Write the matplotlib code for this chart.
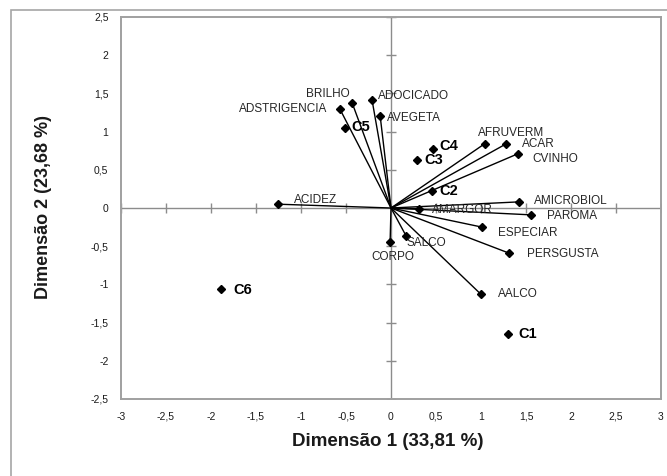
import numpy as np
import matplotlib
matplotlib.use("Agg")
import matplotlib.pyplot as plt
from matplotlib.patches import Rectangle

plt.rcParams["font.family"] = ["Liberation Sans", "DejaVu Sans"]

# variables (loadings) on dimensions 1 and 2
variaveis = ["ADSTRIGENCIA", "BRILHO", "ADOCICADO", "AVEGETA", "ACIDEZ",
             "AFRUVERM", "ACAR", "CVINHO", "AMICROBIOL", "PAROMA", "AMARGOR",
             "ESPECIAR", "PERSGUSTA", "AALCO", "SALCO", "CORPO"]
dim1_var = [-0.57, -0.43, -0.21, -0.12, -1.26, 1.04, 1.28, 1.41, 1.42, 1.56,
            0.31, 1.01, 1.31, 1.00, 0.17, -0.01]
dim2_var = [1.30, 1.37, 1.41, 1.20, 0.05, 0.84, 0.84, 0.71, 0.08, -0.09,
            -0.01, -0.25, -0.59, -1.13, -0.37, -0.45]

# classes (scores)
classes = ["C1", "C2", "C3", "C4", "C5", "C6"]
dim1_cls = [1.30, 0.46, 0.29, 0.47, -0.51, -1.89]
dim2_cls = [-1.65, 0.22, 0.63, 0.77, 1.05, -1.06]

ticks_x = [-3, -2.5, -2, -1.5, -1, -0.5, 0, 0.5, 1, 1.5, 2, 2.5, 3]
ticks_y = [-2.5, -2, -1.5, -1, -0.5, 0, 0.5, 1, 1.5, 2, 2.5]

# label placement (pixels offset, horizontal alignment)
off_var = {"ADSTRIGENCIA": (-12, 0, "right"), "BRILHO": (-3, 9, "right"),
           "ADOCICADO": (6, 4, "left"), "AVEGETA": (7, -2, "left"),
           "ACIDEZ": (16, 4, "left"), "AFRUVERM": (-7, 11, "left"),
           "ACAR": (16, 0, "left"), "CVINHO": (14, -5, "left"),
           "AMICROBIOL": (15, 1, "left"), "PAROMA": (16, -1, "left"),
           "AMARGOR": (13, -1, "left"), "ESPECIAR": (16, -6, "left"),
           "PERSGUSTA": (18, -1, "left"), "AALCO": (17, 0, "left"),
           "SALCO": (0, -7, "left"), "CORPO": (-19, -15, "left")}
off_cls = {"C1": (10, 0), "C2": (7, 0), "C3": (7, 0), "C4": (6, 3),
           "C5": (6, 1), "C6": (12, -1)}

GRAY = "#8c8c8c"

fig = plt.figure(figsize=(6.67, 4.76), dpi=100)
fig.patches.append(Rectangle((11 / 667, -0.01), 1.0, 1 - 10 / 476 + 0.01,
                             transform=fig.transFigure, fill=False,
                             edgecolor="#a6a6a6", lw=1.2))
ax = fig.add_axes([121 / 667, 1 - 399 / 476, 540 / 667, 382 / 476])
ax.set_xlim(-3, 3)
ax.set_ylim(-2.5, 2.5)

# central axes with cross ticks
ax.axhline(0, color=GRAY, lw=1.0, zorder=1)
ax.axvline(0, color=GRAY, lw=1.0, zorder=1)
tx = [t for t in ticks_x if t != 0]
ty = [t for t in ticks_y if t != 0]
ax.plot(tx, np.zeros(len(tx)), "|", color=GRAY, ms=7, mew=1.0, zorder=1)
ax.plot(np.zeros(len(ty)), ty, "_", color=GRAY, ms=7, mew=1.0, zorder=1)

# vectors
for x, y in zip(dim1_var, dim2_var):
    ax.plot([0, x], [0, y], color="black", lw=1.0, zorder=3)
ax.plot(dim1_var, dim2_var, "D", color="black", ms=4.5, zorder=4, ls="none")
for name, x, y in zip(variaveis, dim1_var, dim2_var):
    dx, dy, ha = off_var[name]
    ax.annotate(name, (x, y), xytext=(dx, dy), textcoords="offset pixels",
                ha=ha, va="center", fontsize=8.5, color="#262626", zorder=5)

# classes
ax.plot(dim1_cls, dim2_cls, "D", color="black", ms=4.5, zorder=4, ls="none")
for name, x, y in zip(classes, dim1_cls, dim2_cls):
    dx, dy = off_cls[name]
    ax.annotate(name, (x, y), xytext=(dx, dy), textcoords="offset pixels",
                ha="left", va="center", fontsize=10.5, fontweight="bold",
                color="black", zorder=5)

fmt = lambda v: f"{v:g}".replace(".", ",")
ax.set_xticks(ticks_x)
ax.set_xticklabels([fmt(v) for v in ticks_x])
ax.set_yticks(ticks_y)
ax.set_yticklabels([fmt(v) for v in ticks_y])
ax.tick_params(length=0, labelsize=7.5, labelcolor="#1a1a1a", pad=9)
for s in ax.spines.values():
    s.set_color("#a0a0a0")
    s.set_linewidth(1.4)

fig.text(388 / 667, 1 - 441 / 476, "Dimensão 1 (33,81 %)", ha="center",
         va="center", fontsize=13.5, fontweight="bold", color="#1a1a1a")
fig.text(43 / 667, 1 - 207 / 476, "Dimensão 2 (23,68 %)", ha="center",
         va="center", rotation=90, fontsize=13, fontweight="bold",
         color="#1a1a1a")

fig.savefig("out.png", dpi=100)
